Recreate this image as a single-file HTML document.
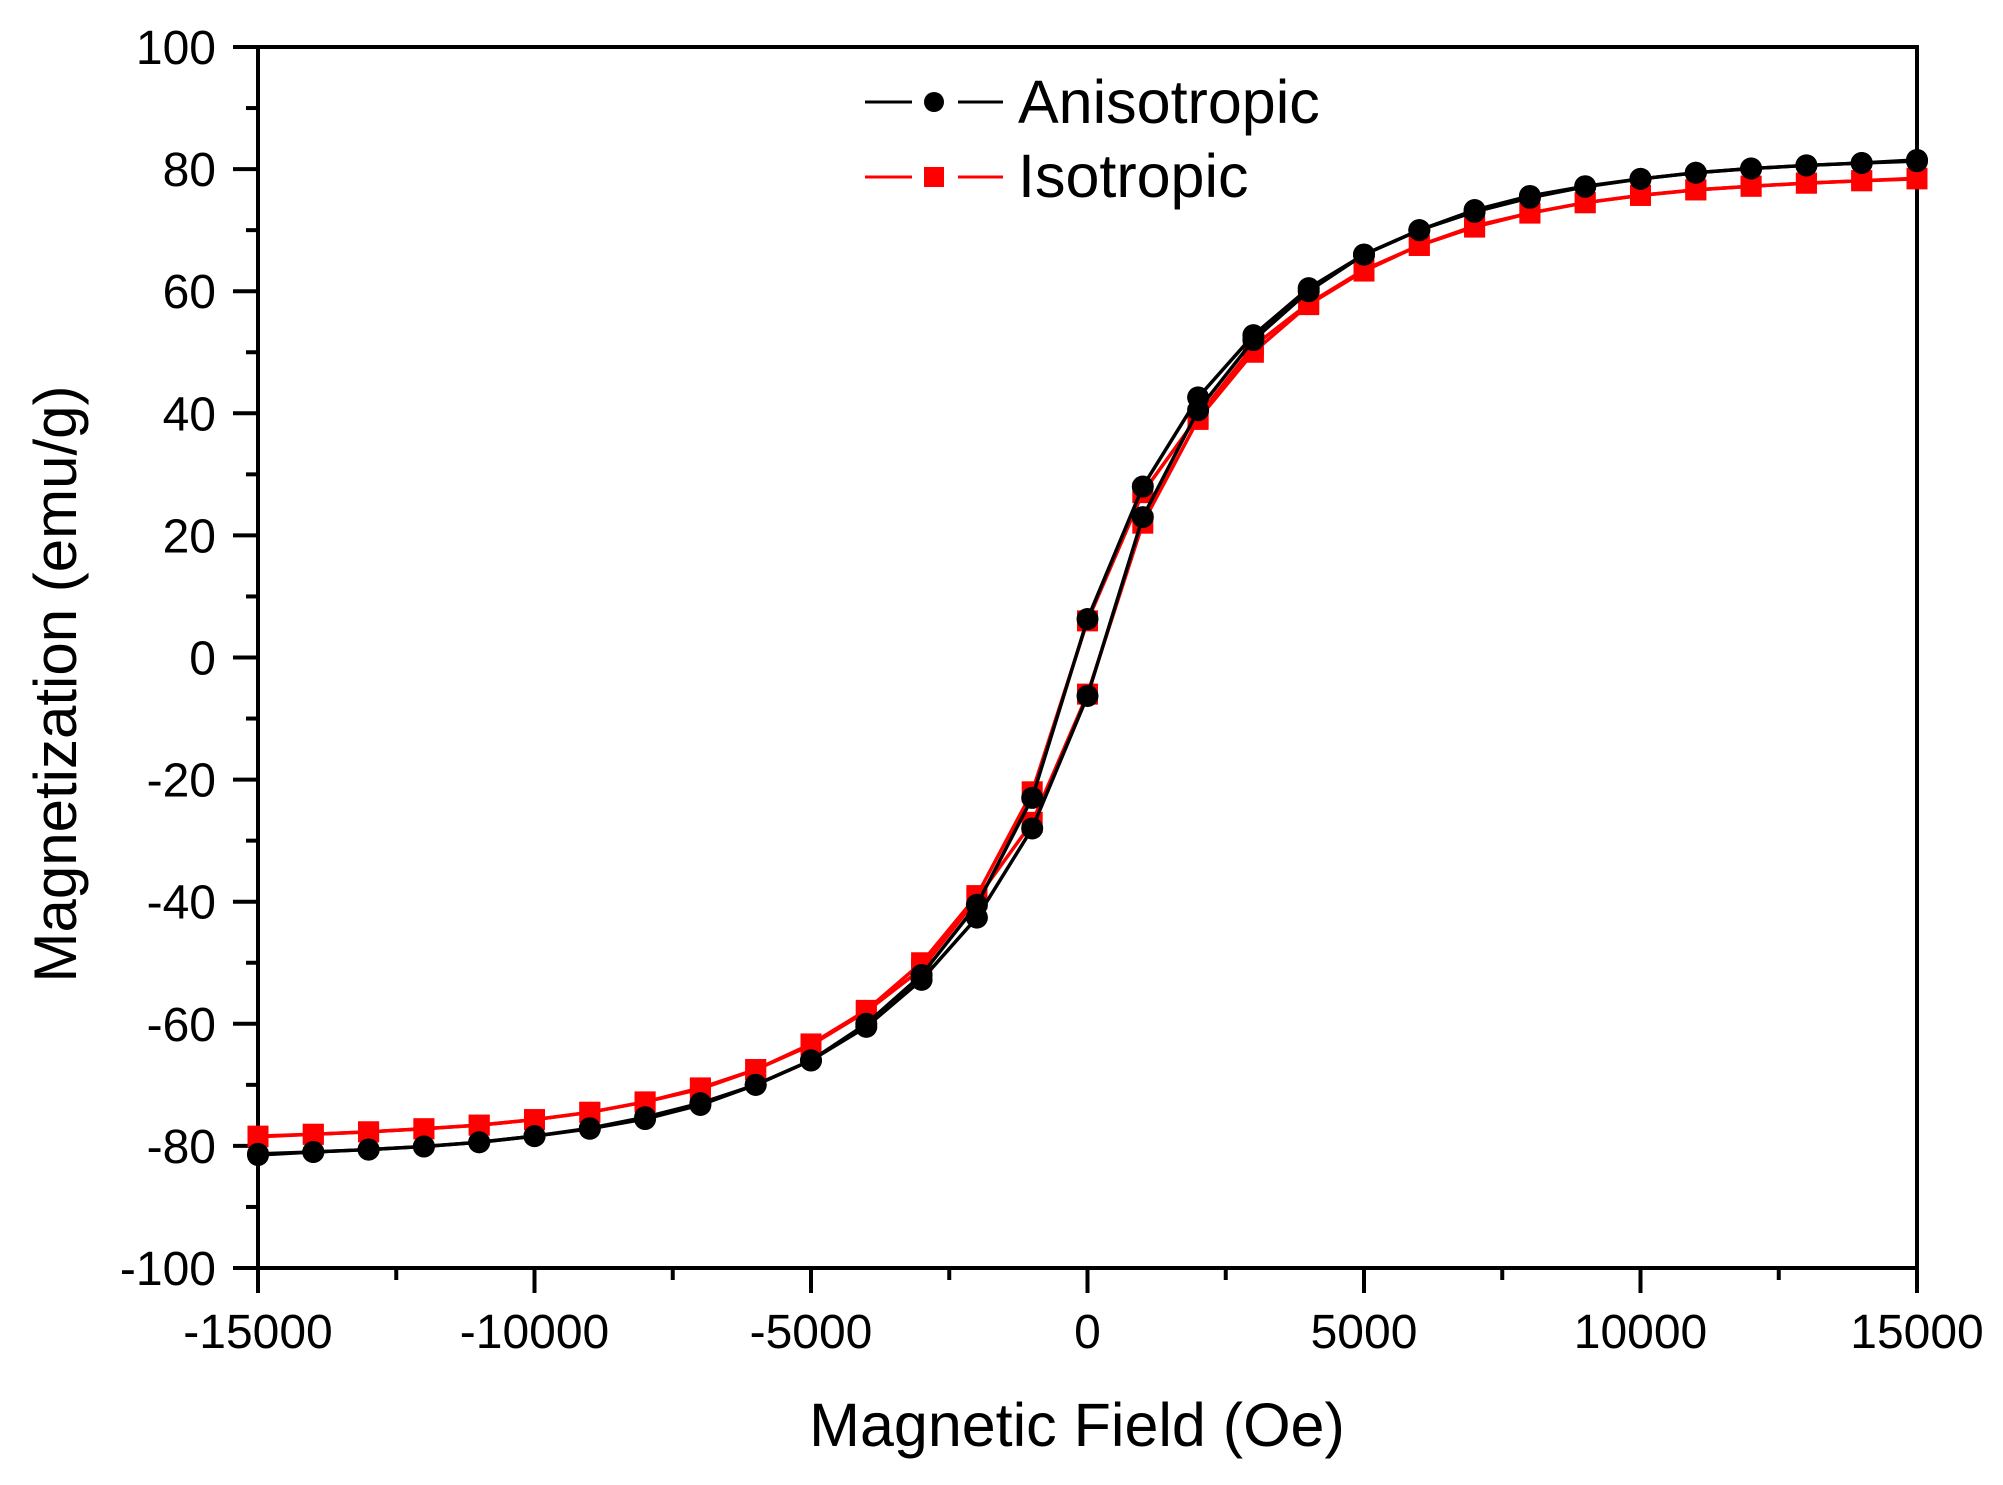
<!DOCTYPE html>
<html><head><meta charset="utf-8"><style>
html,body{margin:0;padding:0;background:#fff;}
svg{display:block;font-family:"Liberation Sans",Arial,sans-serif;}
</style></head><body>
<svg id="s" width="2003" height="1485" viewBox="0 0 2003 1485" xmlns="http://www.w3.org/2000/svg">
<rect width="2003" height="1485" fill="#fff"/>
<g id="ax" stroke="#000" stroke-width="4" fill="none"></g>
<g id="lab" font-size="48" fill="#000"></g>
<g id="data"></g>
<text x="1077" y="1446" font-size="61" text-anchor="middle">Magnetic Field (Oe)</text>
<text transform="translate(76,684) rotate(-90)" font-size="60" text-anchor="middle">Magnetization (emu/g)</text>
<line x1="865" y1="102" x2="912" y2="102" stroke="#000" stroke-width="3"/>
<line x1="958" y1="102" x2="1003" y2="102" stroke="#000" stroke-width="3"/>
<circle cx="934" cy="102" r="10" fill="#000"/>
<text x="1018" y="123" font-size="61">Anisotropic</text>
<line x1="865" y1="177" x2="912" y2="177" stroke="#f00" stroke-width="3"/>
<line x1="958" y1="177" x2="1003" y2="177" stroke="#f00" stroke-width="3"/>
<rect x="924" y="167" width="20" height="20" fill="#f00"/>
<text x="1018" y="197" font-size="61">Isotropic</text>
</svg>
<script>
var NS="http://www.w3.org/2000/svg";
function X(h){return 258+(h+15000)*1659/30000;}
function Y(v){return 657.5-v*6.105;}
function el(t,a,p){var e=document.createElementNS(NS,t);for(var k in a)e.setAttribute(k,a[k]);p.appendChild(e);return e;}
var ax=document.getElementById('ax'),lab=document.getElementById('lab'),data=document.getElementById('data');
el('rect',{x:258,y:47,width:1659,height:1221},ax);
for(var v=-100;v<=100;v+=10){var y=Y(v),maj=(v%20==0);el('line',{x1:258-(maj?25:12),y1:y,x2:258,y2:y},ax);
 if(maj){var t=el('text',{x:216,y:y+17,'text-anchor':'end'},lab);t.textContent=v;}}
for(var h=-15000;h<=15000;h+=2500){var x=X(h),maj=(h%5000==0);el('line',{x1:x,y1:1268,x2:x,y2:1268+(maj?25:12)},ax);
 if(maj){var t=el('text',{x:x,y:1348,'text-anchor':'middle'},lab);t.textContent=h;}}
var aA=[-81.5,-81,-80.6,-80.1,-79.4,-78.4,-77.1,-75.3,-73,-70,-66,-60.5,-52.8,-42.6,-28,-6.3,23,40.5,52,60,66,70,73.3,75.6,77.2,78.4,79.4,80.1,80.6,81,81.3];
var rA=[-78.5,-78.1,-77.7,-77.2,-76.6,-75.7,-74.5,-72.8,-70.7,-67.5,-63.5,-58,-51,-39.5,-27,-6,22,39,50,57.8,63.3,67.5,70.5,72.8,74.5,75.7,76.6,77.2,77.7,78.1,78.4];
function draw(arr,col,sq){
 var up=[],dn=[];
 for(var i=0;i<31;i++){var h=-15000+i*1000;up.push([X(h),Y(arr[i])]);dn.push([X(h),Y(-arr[30-i])]);}
 [up,dn].forEach(function(b){el('polyline',{points:b.map(function(p){return p.join(',')}).join(' '),fill:'none',stroke:col,'stroke-width':3.5},data);});
 [up,dn].forEach(function(b){b.forEach(function(p){
  if(sq)el('rect',{x:p[0]-10.5,y:p[1]-10.5,width:21,height:21,fill:col},data);
  else el('circle',{cx:p[0],cy:p[1],r:11,fill:col},data);});});
}
draw(rA,'#f00',true);
draw(aA,'#000',false);
</script>
</body></html>
